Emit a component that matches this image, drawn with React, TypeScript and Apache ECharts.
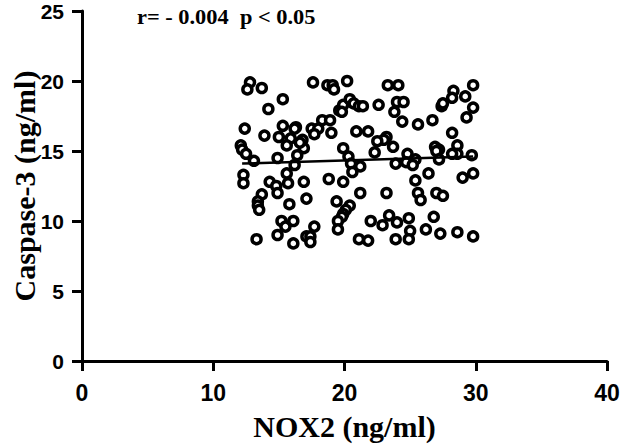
import React, { useEffect, useRef } from "react";
import * as echarts from "echarts";

const xTicks = [0, 10, 20, 30, 40];
const yTicks = [0, 5, 10, 15, 20, 25];

const nox2: number[] = [
  12.8, 12.6, 13.7, 17.6, 18.7, 19.1, 19.2, 20.2, 23.3, 24.1, 29.8, 28.3, 28.2, 29.2, 29.8, 29.3,
  27.4, 27.5, 26.7, 25.6, 24.4, 24.0, 24.5, 23.8, 22.6, 19.6, 19.9, 20.4, 20.7, 21.1, 21.4, 19.8,
  15.3, 14.2, 18.3, 18.9, 17.5, 18.0, 17.7, 19.0, 20.9, 21.8, 16.3, 16.2, 15.3, 12.4, 13.9, 15.0,
  15.9, 16.8, 16.9, 16.6, 15.6, 12.1, 12.2, 12.5, 13.1, 14.9, 16.4, 16.2, 28.2, 28.6, 28.6, 28.2,
  29.7, 26.9, 27.2, 27.0, 27.2, 23.2, 23.0, 22.5, 23.7, 22.3, 24.8, 24.7, 25.4, 25.2, 23.9, 19.9,
  20.3, 20.5, 21.2, 20.6, 12.3, 12.3, 15.6, 16.9, 15.7, 14.3, 14.8, 14.9, 13.7, 13.4, 13.4, 13.5,
  15.8, 17.1, 18.8, 19.9, 21.2, 23.2, 25.4, 26.4, 29.8, 29.0, 25.6, 25.8, 27.0, 27.5, 19.4, 20.4,
  20.1, 19.9, 19.8, 19.5, 19.5, 15.2, 16.1, 15.5, 14.9, 13.3, 16.1, 17.1, 17.4, 17.4, 17.7, 22.0,
  22.9, 23.4, 24.0, 24.9, 25.0, 24.9, 23.9, 21.1, 21.8, 26.2, 26.8, 27.3, 28.6, 29.8,
];
const caspase3: number[] = [
  19.9, 19.4, 19.5, 19.9, 19.7, 19.7, 19.4, 20.0, 19.7, 19.7, 19.7, 19.3, 18.8, 18.9, 18.1, 17.4,
  18.2, 18.4, 17.2, 16.9, 17.1, 18.5, 18.5, 17.8, 18.3, 17.9, 18.3, 18.7, 18.4, 18.2, 18.2, 17.8,
  18.7, 18.0, 17.2, 17.2, 16.6, 16.6, 16.2, 16.3, 16.4, 16.4, 16.7, 16.6, 16.8, 16.6, 16.1, 16.0,
  15.9, 15.8, 15.2, 15.6, 15.4, 15.4, 15.1, 14.8, 14.3, 14.5, 14.7, 14.0, 16.3, 15.4, 14.8, 14.8,
  14.7, 15.3, 15.1, 15.0, 14.4, 16.0, 15.8, 15.7, 15.3, 14.9, 14.8, 14.2, 14.4, 14.0, 14.1, 15.2,
  14.6, 14.1, 13.9, 13.5, 13.3, 12.7, 13.4, 12.8, 12.7, 12.8, 12.5, 12.0, 11.9, 11.4, 11.1, 10.8,
  11.2, 11.6, 13.0, 12.8, 12.0, 12.0, 12.9, 13.4, 13.4, 13.1, 12.0, 11.5, 12.0, 11.8, 11.4, 11.1,
  10.8, 10.5, 10.3, 10.0, 9.4, 10.0, 10.0, 9.6, 9.0, 8.7, 8.4, 8.9, 8.9, 8.5, 9.6, 10.0,
  9.7, 10.4, 9.9, 10.2, 9.3, 8.7, 8.7, 8.7, 8.6, 9.4, 10.3, 9.1, 9.2, 8.9,
];

const fitX = [12.2, 29.8];
const fitY = [14.1, 14.6];

const annotation = "r= - 0.004  p < 0.05";

export default function App() {
  const ref = useRef<HTMLDivElement>(null);
  useEffect(() => {
    if (!ref.current) return;
    const chart = echarts.init(ref.current, null, { renderer: "svg" });
    const labelBase = {
      color: "#000",
      fontFamily: "Liberation Sans",
      fontWeight: "bold" as const,
    };
    const nameStyle = {
      color: "#000",
      fontFamily: "Liberation Serif",
      fontWeight: "bold" as const,
      fontSize: 30,
    };
    chart.setOption({
      animation: false,
      backgroundColor: "#fff",
      grid: { left: 82, right: 16, top: 11, bottom: 84, containLabel: false, outerBoundsMode: "none" },
      xAxis: {
        type: "value",
        min: xTicks[0],
        max: xTicks[xTicks.length - 1],
        interval: 10,
        name: "NOX2 (ng/ml)",
        nameLocation: "middle",
        nameGap: 50,
        nameMoveOverlap: false,
        nameTextStyle: nameStyle,
        splitLine: { show: false },
        axisLine: { show: true, lineStyle: { color: "#000", width: 3 } },
        axisTick: { show: true, length: 10, lineStyle: { color: "#000", width: 3 } },
        axisLabel: { ...labelBase, fontSize: 23, margin: 20 },
      },
      yAxis: {
        type: "value",
        min: yTicks[0],
        max: yTicks[yTicks.length - 1],
        interval: 5,
        name: "Caspase-3 (ng/ml)",
        nameLocation: "middle",
        nameRotate: 90,
        nameGap: 43,
        nameMoveOverlap: false,
        nameTextStyle: nameStyle,
        splitLine: { show: false },
        axisLine: { show: true, lineStyle: { color: "#000", width: 3 } },
        axisTick: { show: true, length: 10, lineStyle: { color: "#000", width: 3 } },
        axisLabel: { ...labelBase, fontSize: 21, margin: 18 },
      },
      graphic: [
        {
          type: "text",
          x: 137,
          y: 7,
          scaleX: 1.12,
          style: {
            text: annotation,
            fill: "#000",
            font: "bold 20px 'Liberation Serif'",
          },
        },
      ],
      series: [
        {
          type: "scatter",
          data: nox2.map((x, i) => [x, caspase3[i]]),
          symbol: "circle",
          symbolSize: 9,
          itemStyle: { color: "#fff", borderColor: "#000", borderWidth: 3.5, opacity: 1 },
          z: 2,
        },
        {
          type: "line",
          data: fitX.map((x, i) => [x, fitY[i]]),
          showSymbol: false,
          lineStyle: { color: "#000", width: 2.5 },
          z: 3,
        },
      ],
    });
    return () => chart.dispose();
  }, []);
  return (
    <div
      ref={ref}
      style={{ position: "fixed", left: 0, top: 0, width: 623, height: 445 }}
    />
  );
}
